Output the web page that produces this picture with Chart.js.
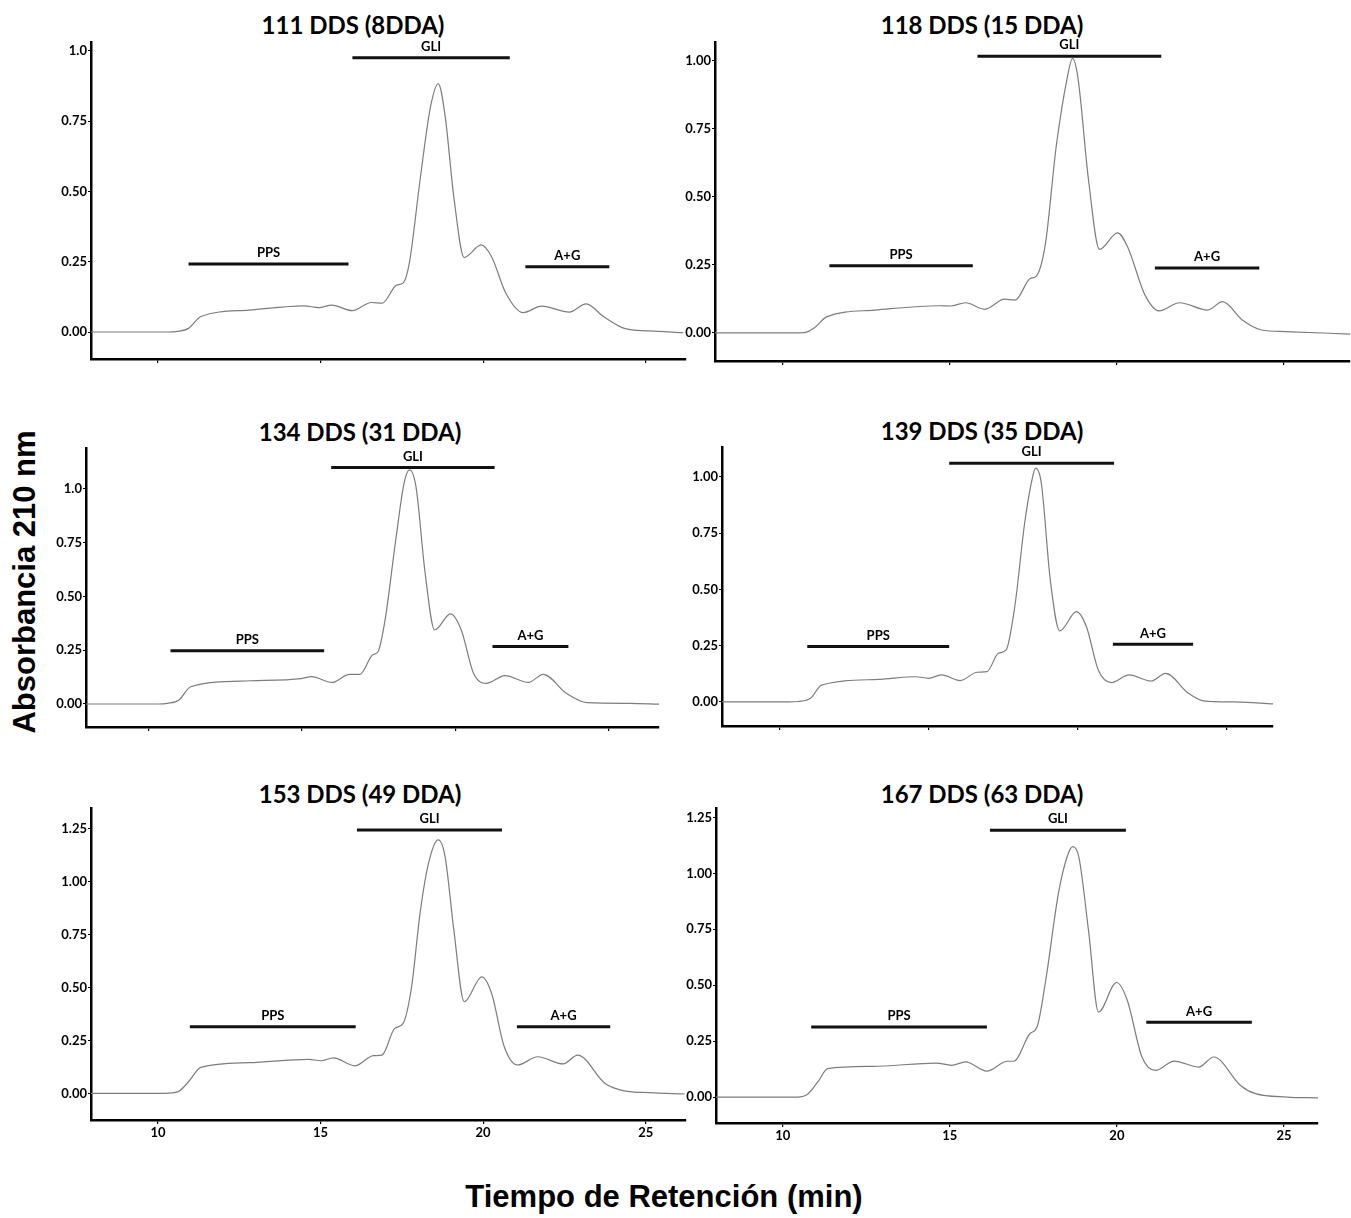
<!DOCTYPE html>
<html>
<head>
<meta charset="utf-8">
<script src="https://cdn.jsdelivr.net/npm/chart.js@4.4.1/dist/chart.umd.min.js"></script>
<style>
  body { margin: 0; background: #fff; }
  #wrap { position: relative; width: 1351px; height: 1218px; overflow: hidden; background: #fff; }
  canvas { position: absolute; }
  .titulo { position: absolute; transform: translate(-50%, -50%); font: bold 24px Lato, sans-serif; color: #000; white-space: nowrap; }
  .eje { position: absolute; font: bold 31px "Liberation Sans", Arial, sans-serif; color: #000; white-space: nowrap; }
</style>
</head>
<body>
<div id="wrap">
  <div class="eje" id="ejeY" style="left:25px;top:582px;transform:translate(-50%,-50%) rotate(-90deg);">Absorbancia 210 nm</div>
  <div class="eje" id="ejeX" style="left:664px;top:1197px;transform:translate(-50%,-50%);">Tiempo de Retención (min)</div>
</div>
<script>
// --- EJES ---
const xTicks = [10, 15, 20, 25];
const xTickLabels = ['10', '15', '20', '25'];
const yTicks1 = [0, 0.25, 0.5, 0.75, 1.0];
const yTicks2 = [0, 0.25, 0.5, 0.75, 1.0, 1.25];
const yLabels1 = ['0.00', '0.25', '0.50', '0.75', '1.0'];
const yLabels2 = ['0.00', '0.25', '0.50', '0.75', '1.00'];
const yLabels3 = ['0.00', '0.25', '0.50', '0.75', '1.00', '1.25'];

const titulos = ['111 DDS (8DDA)', '118 DDS (15 DDA)', '134 DDS (31 DDA)', '139 DDS (35 DDA)', '153 DDS (49 DDA)', '167 DDS (63 DDA)'];
const fracciones = ['PPS', 'GLI', 'A+G'];

// --- CROMATOGRAMAS (tiempo en min, absorbancia) ---
const tiempo1 = [7.94, 10.3, 10.6, 10.94, 11.32, 12.8, 14.49, 14.95, 15.34, 15.98, 16.57, 16.9, 17.34, 17.54, 17.73, 18.06, 18.38, 18.62, 18.83, 19.1, 19.42, 19.94, 20.26, 20.7, 21.23, 21.8, 22.65, 23.17, 23.7, 24.34, 25.1, 26.15];
const abs1 = [0, 0, 0.002, 0.013, 0.055, 0.078, 0.093, 0.087, 0.096, 0.076, 0.105, 0.103, 0.167, 0.174, 0.245, 0.54, 0.80, 0.884, 0.77, 0.48, 0.265, 0.31, 0.268, 0.138, 0.069, 0.092, 0.071, 0.10, 0.055, 0.013, 0.004, -0.002];

const tiempo2 = [7.96, 10.3, 10.67, 10.93, 11.32, 12.75, 14.69, 15.02, 15.47, 16.05, 16.64, 16.96, 17.41, 17.6, 17.87, 18.19, 18.51, 18.68, 18.84, 19.16, 19.49, 20.03, 20.33, 20.85, 21.28, 21.89, 22.73, 23.18, 23.77, 24.35, 25.06, 27.0];
const abs2 = [0, 0, 0.002, 0.018, 0.06, 0.084, 0.10, 0.099, 0.111, 0.087, 0.124, 0.121, 0.20, 0.21, 0.33, 0.684, 0.93, 1.009, 0.94, 0.562, 0.307, 0.368, 0.317, 0.14, 0.081, 0.111, 0.084, 0.115, 0.048, 0.011, 0.005, -0.004];

const tiempo3 = [7.94, 10.3, 10.6, 10.98, 11.36, 13.31, 14.97, 15.31, 15.97, 16.55, 16.89, 17.3, 17.48, 17.71, 18.06, 18.33, 18.51, 18.72, 19.02, 19.33, 19.85, 20.2, 20.6, 21.01, 21.63, 22.39, 22.88, 23.63, 24.31, 25.7, 26.66];
const abs3 = [0, 0, 0.003, 0.019, 0.08, 0.108, 0.118, 0.127, 0.10, 0.138, 0.138, 0.228, 0.243, 0.39, 0.763, 1.026, 1.088, 1.01, 0.608, 0.344, 0.419, 0.344, 0.143, 0.096, 0.132, 0.10, 0.138, 0.05, 0.006, 0.003, -0.001];

const tiempo4 = [8.07, 10.3, 10.63, 11.04, 11.41, 13.3, 14.56, 15.0, 15.43, 16.06, 16.63, 16.96, 17.34, 17.6, 17.89, 18.22, 18.49, 18.59, 18.78, 19.08, 19.4, 19.96, 20.29, 20.69, 21.13, 21.72, 22.46, 22.95, 23.7, 24.21, 25.3, 26.55];
const abs4 = [0, 0, 0.002, 0.016, 0.075, 0.10, 0.112, 0.105, 0.12, 0.095, 0.132, 0.135, 0.216, 0.231, 0.424, 0.794, 1.001, 1.039, 0.972, 0.542, 0.316, 0.401, 0.335, 0.142, 0.086, 0.12, 0.093, 0.127, 0.04, 0.005, 0, -0.009];

const tiempo5 = [7.94, 10.2, 10.62, 10.94, 11.32, 12.81, 14.63, 15.02, 15.4, 16.05, 16.63, 16.89, 17.28, 17.54, 17.8, 18.06, 18.32, 18.62, 18.83, 19.1, 19.42, 19.96, 20.26, 20.65, 21.06, 21.68, 22.46, 22.91, 23.75, 24.34, 25.12, 26.2];
const abs5 = [0, 0, 0.008, 0.055, 0.123, 0.145, 0.161, 0.154, 0.168, 0.13, 0.178, 0.181, 0.307, 0.331, 0.504, 0.851, 1.087, 1.198, 1.119, 0.772, 0.433, 0.551, 0.473, 0.22, 0.134, 0.173, 0.139, 0.181, 0.047, 0.012, 0.003, -0.003];

const tiempo6 = [8.0, 10.44, 10.76, 11.08, 11.34, 12.68, 14.6, 15.05, 15.47, 16.11, 16.72, 16.91, 17.4, 17.61, 17.87, 18.25, 18.51, 18.68, 18.86, 19.15, 19.45, 19.99, 20.31, 20.75, 21.16, 21.71, 22.45, 22.9, 23.7, 24.15, 25.1, 26.02];
const abs6 = [0, 0, 0.015, 0.075, 0.127, 0.137, 0.152, 0.142, 0.157, 0.116, 0.16, 0.16, 0.284, 0.313, 0.522, 0.91, 1.074, 1.119, 1.074, 0.746, 0.38, 0.512, 0.433, 0.179, 0.119, 0.161, 0.134, 0.179, 0.052, 0.015, 0, -0.004];

// --- BARRAS DE FRACCIONES (inicio, fin, altura) en orden PPS, GLI, A+G ---
const inicio1 = [10.94, 15.98, 21.3],  fin1 = [15.86, 20.82, 23.88], altura1 = [0.242, 0.976, 0.232];
const inicio2 = [11.39, 15.83, 21.15], fin2 = [15.69, 21.34, 24.28], altura2 = [0.247, 1.017, 0.239];
const inicio3 = [10.7, 15.95, 21.22],  fin3 = [15.72, 21.29, 23.7],  altura3 = [0.248, 1.099, 0.267];
const inicio4 = [10.93, 15.69, 21.18], fin4 = [15.69, 21.22, 23.87], altura4 = [0.246, 1.061, 0.256];
const inicio5 = [10.98, 16.12, 21.04], fin5 = [16.08, 20.58, 23.91], altura5 = [0.315, 1.245, 0.315];
const inicio6 = [10.85, 16.2, 20.88],  fin6 = [16.11, 20.27, 24.04], altura6 = [0.313, 1.193, 0.334];

// --- PANELES: datos + posición del área del gráfico en la página ---
const paneles = [
  { t: tiempo1, a: abs1, ini: inicio1, fin: fin1, alt: altura1, yT: yTicks1, yL: yLabels1, xMin: 7.94, xMax: 26.24, yMin: -0.096, yMax: 1.032, ejeX: 91,  der: 686,  arr: 42,  abj: 359,  conX: false, tx: 353, ty: 24 },
  { t: tiempo2, a: abs2, ini: inicio2, fin: fin2, alt: altura2, yT: yTicks1, yL: yLabels2, xMin: 7.96, xMax: 27.0,  yMin: -0.103, yMax: 1.069, ejeX: 715, der: 1350, arr: 42,  abj: 361,  conX: false, tx: 982, ty: 24 },
  { t: tiempo3, a: abs3, ini: inicio3, fin: fin3, alt: altura3, yT: yTicks1, yL: yLabels1, xMin: 7.94, xMax: 26.66, yMin: -0.107, yMax: 1.19,  ejeX: 86,  der: 659,  arr: 448, abj: 727,  conX: false, tx: 360, ty: 431 },
  { t: tiempo4, a: abs4, ini: inicio4, fin: fin4, alt: altura4, yT: yTicks1, yL: yLabels2, xMin: 8.07, xMax: 26.55, yMin: -0.107, yMax: 1.133, ejeX: 722, der: 1273, arr: 447, abj: 726,  conX: false, tx: 982, ty: 430 },
  { t: tiempo5, a: abs5, ini: inicio5, fin: fin5, alt: altura5, yT: yTicks2, yL: yLabels3, xMin: 7.94, xMax: 26.24, yMin: -0.126, yMax: 1.349, ejeX: 91,  der: 686,  arr: 808, abj: 1120, conX: true,  tx: 360, ty: 793 },
  { t: tiempo6, a: abs6, ini: inicio6, fin: fin6, alt: altura6, yT: yTicks2, yL: yLabels3, xMin: 8.0,  xMax: 26.02, yMin: -0.116, yMax: 1.292, ejeX: 716, der: 1318, arr: 808, abj: 1123, conX: true,  tx: 982, ty: 793 }
];

const ANCHO_Y = 46;   // ancho fijo del eje Y
const PAD_ARR = 14;
const PAD_DER = 4;

// Etiquetas PPS / GLI / A+G encima de cada barra
const etiquetasFracciones = {
  id: 'etiquetasFracciones',
  afterDatasetsDraw(chart) {
    const { ctx, scales: { x, y } } = chart;
    ctx.save();
    ctx.font = 'bold 13px Lato, sans-serif';
    ctx.fillStyle = '#000';
    ctx.textAlign = 'center';
    ctx.textBaseline = 'middle';
    chart.data.datasets.forEach(ds => {
      if (!ds.etiqueta) return;
      const p0 = ds.data[0], p1 = ds.data[1];
      ctx.fillText(ds.etiqueta, x.getPixelForValue((p0.x + p1.x) / 2), y.getPixelForValue(p0.y) - 11);
    });
    ctx.restore();
  }
};

const wrap = document.getElementById('wrap');
const fuenteTicks = { family: 'Lato', weight: 'bold', size: 13 };

paneles.forEach((p, i) => {
  // título
  const tit = document.createElement('div');
  tit.className = 'titulo';
  tit.style.left = p.tx + 'px';
  tit.style.top = p.ty + 'px';
  tit.textContent = titulos[i];
  wrap.appendChild(tit);

  const altoX = p.conX ? 28 : 12;
  const left = p.ejeX - ANCHO_Y;
  const top = p.arr - PAD_ARR;
  const w = p.der + PAD_DER - left;
  const h = p.abj + altoX - top;

  const cv = document.createElement('canvas');
  cv.width = w; cv.height = h;
  cv.style.left = left + 'px'; cv.style.top = top + 'px';
  cv.style.width = w + 'px'; cv.style.height = h + 'px';
  wrap.appendChild(cv);

  const datasets = [{
    data: p.t.map((t, k) => ({ x: t, y: p.a[k] })),
    borderColor: '#7d7d7d',
    borderWidth: 1.2,
    pointRadius: 0,
    fill: false,
    cubicInterpolationMode: 'monotone'
  }];
  fracciones.forEach((nombre, k) => {
    datasets.push({
      data: [{ x: p.ini[k], y: p.alt[k] }, { x: p.fin[k], y: p.alt[k] }],
      borderColor: '#111',
      borderWidth: 3,
      pointRadius: 0,
      tension: 0,
      clip: false,
      etiqueta: nombre
    });
  });

  new Chart(cv.getContext('2d'), {
    type: 'line',
    data: { datasets },
    plugins: [etiquetasFracciones],
    options: {
      responsive: false,
      animation: false,
      layout: { padding: { top: PAD_ARR, right: PAD_DER, left: 0, bottom: 0 } },
      plugins: { legend: { display: false }, tooltip: { enabled: false } },
      scales: {
        x: {
          type: 'linear',
          min: p.xMin, max: p.xMax,
          afterBuildTicks: s => { s.ticks = xTicks.map(v => ({ value: v })); },
          afterFit: s => { s.height = altoX; },
          border: { display: true, color: '#000', width: 2.5 },
          grid: { display: true, drawOnChartArea: false, drawTicks: true, tickLength: 4, color: '#000', lineWidth: 1.2 },
          ticks: { display: p.conX, padding: 1, color: '#000', font: fuenteTicks, maxRotation: 0, autoSkip: false,
                   callback: (v, k) => xTickLabels[k] }
        },
        y: {
          type: 'linear',
          min: p.yMin, max: p.yMax,
          afterBuildTicks: s => { s.ticks = p.yT.map(v => ({ value: v })); },
          afterFit: s => { s.width = ANCHO_Y; },
          border: { display: true, color: '#000', width: 2.5 },
          grid: { display: true, drawOnChartArea: false, drawTicks: true, tickLength: 3, color: '#000', lineWidth: 1 },
          ticks: { padding: 1, color: '#000', font: fuenteTicks, autoSkip: false,
                   callback: (v, k) => p.yL[k] }
        }
      }
    }
  });
});
</script>
</body>
</html>
